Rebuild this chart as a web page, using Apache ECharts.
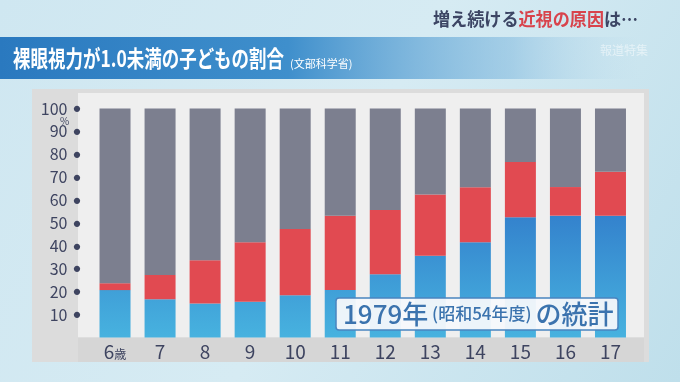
<!DOCTYPE html>
<html><head><meta charset="utf-8">
<script src="https://cdn.jsdelivr.net/npm/echarts@6/dist/echarts.min.js"></script>
<style>html,body{margin:0;padding:0;}#c{width:680px;height:382px;}</style>
</head><body><div id="c"></div>
<script>
const categories = ['6歳','7','8','9','10','11','12','13','14','15','16','17'];
const blueVals  = [20.7, 16.7, 14.9, 15.6, 18.4, 20.7, 27.6, 35.7, 41.6, 52.5, 53.2, 53.2];
const redVals   = [3.0, 10.6, 18.8, 26.0, 29.0, 32.5, 28.1, 26.8, 24.0, 24.1, 12.5, 19.2];
const greyVals  = blueVals.map((b,i)=> +(100 - b - redVals[i]).toFixed(1));
const yTicks = [10,20,30,40,50,60,70,80,90,100];

const FONT = '"Noto Sans CJK JP", "Noto Sans", sans-serif';
const chart = echarts.init(document.getElementById('c'), null, {renderer:'canvas'});

chart.setOption({
  animation:false,
  backgroundColor:{type:'linear',x:0,y:0,x2:1,y2:1,colorStops:[
    {offset:0,color:'#cfe7f1'},{offset:0.5,color:'#d6ebf3'},{offset:1,color:'#bfdfeb'}]},
  grid:{left:92.5,right:47,top:108.5,bottom:44.5},
  xAxis:{type:'category',data:categories,
    axisLine:{show:false},axisTick:{show:false},
    axisLabel:{interval:0,margin:5,color:'#3e4460',fontSize:19,fontFamily:FONT,
      formatter:v=> v.endsWith('歳') ? '{n|'+v.slice(0,-1)+'}{s|歳}' : v,
      rich:{n:{fontSize:19,color:'#3e4460',fontFamily:FONT},s:{fontSize:12,color:'#3e4460',fontFamily:FONT,padding:[4,0,0,0]}}}},
  yAxis:{type:'value',min:0,max:100,interval:10,
    splitLine:{show:false},axisLine:{show:false},axisTick:{show:false},
    axisLabel:{margin:12,fontFamily:FONT,
      formatter:v=> yTicks.includes(v) ? '{a|'+v+'}{d|●}' : '',
      rich:{a:{fontSize:16,color:'#3e4460',fontFamily:FONT},d:{fontSize:7,color:'#3e4460',padding:[0,0,0,6]}}}},
  series:[
    {name:'blue',type:'bar',stack:'s',barWidth:31,data:blueVals,z:3,
      itemStyle:{color:{type:'linear',global:true,x:0,y:210,x2:0,y2:337,colorStops:[
        {offset:0,color:'#3380cc'},{offset:1,color:'#47b2df'}]}}},
    {name:'red',type:'bar',stack:'s',barWidth:31,data:redVals,z:3,
      itemStyle:{color:'#e14a51'}},
    {name:'grey',type:'bar',stack:'s',barWidth:31,data:greyVals,z:3,
      itemStyle:{color:'#7c7f8f'}}
  ],
  graphic:[
    {type:'rect',z:-10,shape:{x:32,y:89,width:617,height:273},style:{fill:'#dcdcdc'}},
    {type:'rect',z:-9,shape:{x:78,y:93,width:566,height:244.5},style:{fill:'#efefef'}},
    {type:'rect',z:-9,shape:{x:78,y:337.5,width:566,height:24.5},style:{fill:'#d6d6d6'}},
    {type:'rect',z:-8,shape:{x:0,y:37,width:640,height:42},
      style:{fill:{type:'linear',x:0,y:0,x2:1,y2:0,colorStops:[
        {offset:0,color:'#2a79bf'},{offset:0.45,color:'#3f8fcc'},{offset:0.8,color:'rgba(120,180,220,0.5)'},{offset:1,color:'rgba(180,215,235,0)'}]}}},
    {type:'text',z:10,x:13,y:58,scaleX:0.76,
      style:{text:'裸眼視力が1.0未満の子どもの割合',fill:'#ffffff',font:'bold 23px '+FONT,textVerticalAlign:'middle'}},
    {type:'text',z:10,x:290,y:64,
      style:{text:'(文部科学省)',fill:'#ffffff',font:'11px '+FONT,textVerticalAlign:'middle'}},
    {type:'text',z:10,x:600,y:50,
      style:{text:'報道特集',fill:'rgba(255,255,255,0.5)',font:'12px '+FONT,textVerticalAlign:'middle'}},
    {type:'text',z:10,x:433,y:19,scaleX:0.95,
      style:{rich:{n:{fill:'#3c4564',font:'bold 18px '+FONT},r:{fill:'#d8434c',font:'bold 18px '+FONT}},
        text:'{n|増え続ける}{r|近視の原因}{n|は…}',textVerticalAlign:'middle'}},
    {type:'text',z:10,x:60,y:121,
      style:{text:'%',fill:'#3e4460',font:'10px '+FONT,textVerticalAlign:'middle'}},
    {type:'rect',z:20,shape:{x:336,y:298,width:282,height:32,r:3},
      style:{fill:'rgba(245,248,251,0.95)',stroke:'#4a85c0',lineWidth:1.5}},
    {type:'text',z:21,x:343,y:314,
      style:{rich:{b:{fill:'#3b73ae',font:'500 26px '+FONT},s:{fill:'#3b73ae',font:'500 17px '+FONT}},
        text:'{b|1979年}{s| (昭和54年度) }{b|の統計}',textVerticalAlign:'middle'}}
  ]
});
</script></body></html>
